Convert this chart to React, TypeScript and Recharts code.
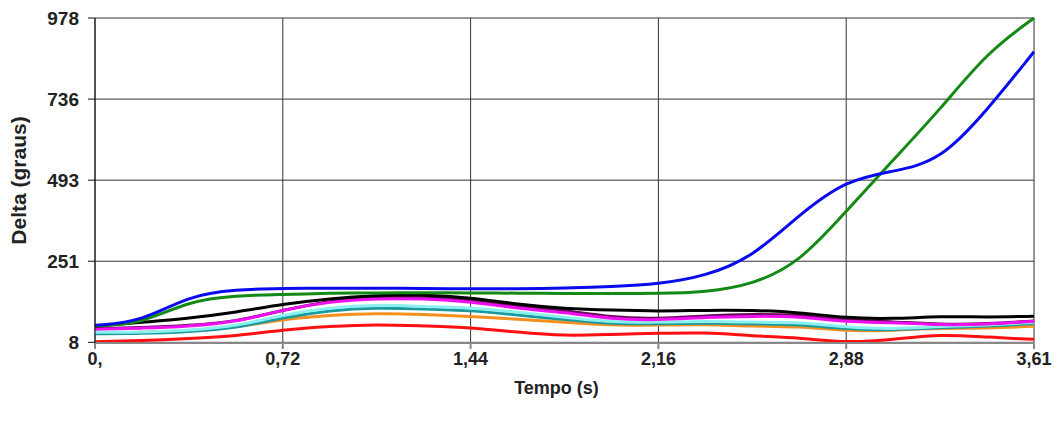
import { CartesianGrid, Line, LineChart, XAxis, YAxis } from "recharts";

// Tempo (s)
const tempo = [
  0, 0.181, 0.361, 0.542, 0.722, 0.903, 1.083, 1.264, 1.444, 1.625, 1.805,
  1.986, 2.166, 2.347, 2.527, 2.708, 2.888, 3.069, 3.249, 3.43, 3.61,
];

// Delta (graus) per machine
const azul = [59, 70, 148, 166, 169, 170, 170, 169, 168, 168, 170, 175, 182, 206, 262, 390, 494, 519, 550, 702, 877];
const verde = [57, 64, 132, 148, 151, 155, 156, 156, 156, 155, 154, 154, 154, 158, 180, 246, 400, 554, 704, 876, 978];
const preto = [56, 68, 80, 98, 122, 139, 148, 151, 142, 121, 109, 104, 101, 104, 104, 98, 80, 78, 86, 83, 86];
const roxo = [49, 52, 58, 70, 104, 133, 142, 143, 136, 117, 104, 82, 78, 88, 92, 91, 74, 70, 61, 63, 72];
const magenta = [47, 50, 56, 68, 106, 130, 139, 139, 130, 109, 98, 77, 74, 83, 86, 86, 68, 68, 59, 62, 71];
const ciano = [38, 38, 44, 56, 90, 112, 121, 115, 112, 98, 83, 68, 68, 71, 68, 68, 53, 47, 56, 59, 68];
const verdeAzulado = [34, 34, 40, 50, 82, 104, 112, 108, 104, 90, 76, 63, 63, 66, 63, 62, 48, 44, 52, 56, 64];
const laranja = [35, 38, 41, 53, 77, 89, 95, 92, 86, 77, 68, 59, 59, 62, 56, 56, 41, 44, 50, 50, 56];
const vermelho = [10, 13, 19, 26, 46, 56, 62, 57, 53, 38, 27, 32, 35, 38, 27, 22, 6, 16, 33, 23, 17];

const xTicks = [0, 0.722, 1.444, 2.166, 2.888, 3.61];
const xTickLabels = ["0,", "0,72", "1,44", "2,16", "2,88", "3,61"];
const yTicks = [8, 250.5, 493, 735.5, 978];
const yTickLabels = ["8", "251", "493", "736", "978"];

const series = [
  { key: "vermelho", values: vermelho, color: "#ff1010" },
  { key: "laranja", values: laranja, color: "#f39020" },
  { key: "verdeAzulado", values: verdeAzulado, color: "#1a9a9a" },
  { key: "ciano", values: ciano, color: "#8af0f0" },
  { key: "roxo", values: roxo, color: "#6a0a5a" },
  { key: "magenta", values: magenta, color: "#ee10ee" },
  { key: "preto", values: preto, color: "#000000" },
  { key: "verde", values: verde, color: "#138a13" },
  { key: "azul", values: azul, color: "#0a0aee" },
];

const data = tempo.map((t, i) => {
  const row: Record<string, number> = { t };
  series.forEach((s) => {
    row[s.key] = s.values[i];
  });
  return row;
});

const font = "'Liberation Sans', Arial, sans-serif";

export default function App() {
  return (
    <div style={{ position: "absolute", left: 0, top: 0, width: 1062, height: 421, background: "#fff" }}>
      <LineChart width={1062} height={421} data={data} margin={{ top: 18, right: 28, left: 0, bottom: 0 }}>
        <CartesianGrid stroke="#333" strokeWidth={1} />
        <XAxis
          dataKey="t"
          type="number"
          domain={[0, 3.61]}
          ticks={xTicks}
          tickFormatter={(v: number) => xTickLabels[xTicks.indexOf(v)] ?? ""}
          height={78}
          tickSize={6}
          tickMargin={3}
          stroke="#888"
          strokeWidth={2}
          tick={{ fontSize: 18, fontWeight: 700, fill: "#222", fontFamily: font }}
          label={{ value: "Tempo (s)", position: "insideBottom", offset: 27, dx: -8, fontSize: 18, fontWeight: 700, fill: "#222", fontFamily: font }}
        />
        <YAxis
          type="number"
          domain={[8, 978]}
          ticks={yTicks}
          tickFormatter={(v: number) => yTickLabels[yTicks.indexOf(v)] ?? ""}
          width={95}
          tickSize={7}
          tickMargin={9}
          stroke="#111"
          tick={{ fontSize: 19, fontWeight: 700, fill: "#222", fontFamily: font }}
          label={{
            value: "Delta (graus)",
            angle: -90,
            position: "insideLeft",
            offset: 19,
            fontSize: 21,
            fontWeight: 700,
            fill: "#222",
            fontFamily: font,
            style: { textAnchor: "middle" },
          }}
        />
        {series.map((s) => (
          <Line
            key={s.key}
            dataKey={s.key}
            type="basis"
            stroke={s.color}
            strokeWidth={3}
            dot={false}
            isAnimationActive={false}
          />
        ))}
      </LineChart>
    </div>
  );
}
